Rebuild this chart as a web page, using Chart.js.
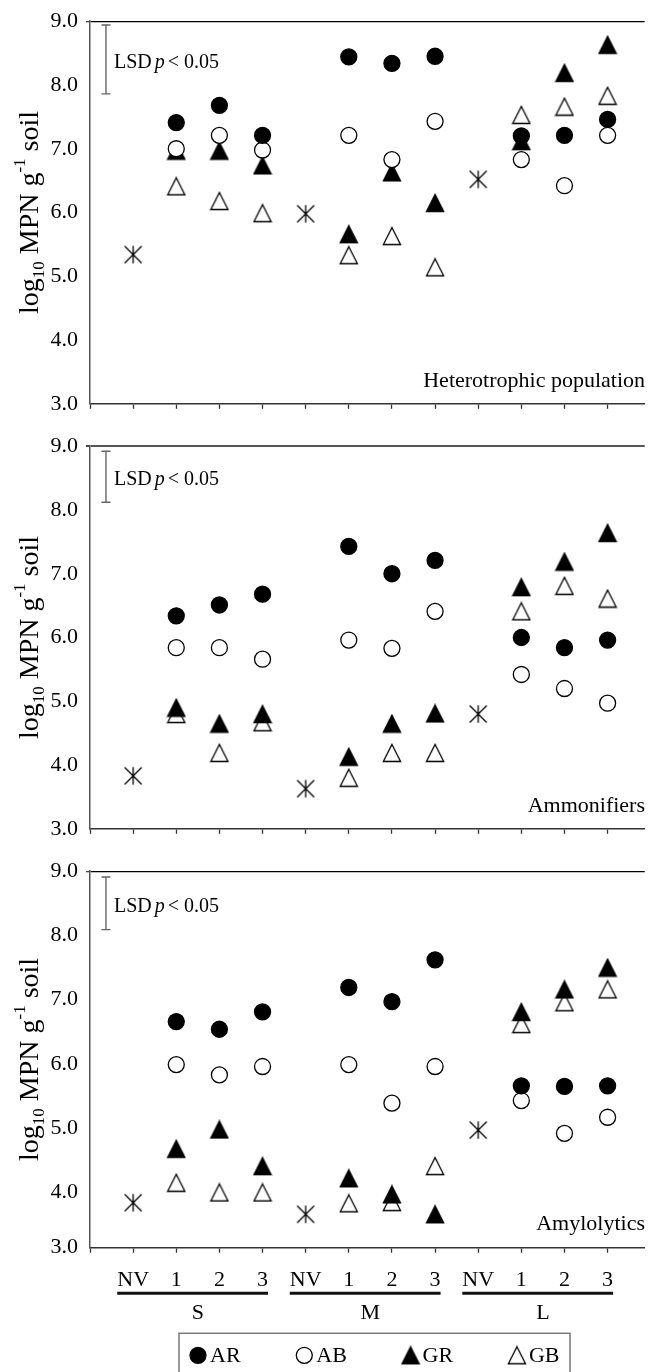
<!DOCTYPE html>
<html>
<head>
<meta charset="utf-8">
<script src="https://cdn.jsdelivr.net/npm/chart.js@4.4.0/dist/chart.umd.min.js"></script>
<style>
  body { margin: 0; background: #fff; width: 654px; height: 1372px; position: relative; overflow: hidden; }
  canvas { position: absolute; left: 0; }
</style>
</head>
<body>
<canvas id="c1" width="654" height="425" style="top:0px"></canvas>
<canvas id="c2" width="654" height="425" style="top:425px"></canvas>
<canvas id="c3" width="654" height="522" style="top:850px"></canvas>
<script>
const sizes = ['S', 'M', 'L'];
const treatments = ['NV', '1', '2', '3'];
const seriesNames = ['AR', 'AB', 'GR', 'GB'];
const panelTitles = ['Heterotrophic population', 'Ammonifiers', 'Amylolytics'];

// series order: S1 S2 S3 M1 M2 M3 L1 L2 L3 ; NV order: S M L
const nvHet = [5.34, 5.98, 6.52];
const arHet = [7.41, 7.68, 7.21, 8.44, 8.34, 8.45, 7.20, 7.21, 7.46];
const abHet = [7.00, 7.21, 6.98, 7.21, 6.83, 7.43, 6.83, 6.42, 7.21];
const grHet = [6.97, 6.97, 6.74, 5.66, 6.63, 6.15, 7.12, 8.19, 8.63];
const gbHet = [6.41, 6.18, 5.99, 5.33, 5.63, 5.14, 7.53, 7.66, 7.83];

const nvAmm = [3.83, 3.63, 4.80];
const arAmm = [6.34, 6.51, 6.68, 7.43, 7.00, 7.21, 6.00, 5.84, 5.96];
const abAmm = [5.84, 5.84, 5.66, 5.96, 5.83, 6.41, 5.42, 5.20, 4.97];
const grAmm = [4.90, 4.65, 4.80, 4.13, 4.65, 4.81, 6.79, 7.19, 7.64];
const gbAmm = [4.80, 4.19, 4.67, 3.80, 4.19, 4.19, 6.41, 6.81, 6.61];

const nvAmy = [3.84, 3.66, 4.97];
const arAmy = [6.66, 6.54, 6.81, 7.19, 6.97, 7.62, 5.66, 5.65, 5.66];
const abAmy = [5.99, 5.83, 5.96, 5.99, 5.39, 5.96, 5.43, 4.92, 5.17];
const grAmy = [4.68, 4.98, 4.41, 4.22, 3.97, 3.66, 6.81, 7.16, 7.50];
const gbAmy = [4.15, 4.00, 4.00, 3.83, 3.85, 4.41, 6.62, 6.96, 7.16];

const lsdTop = [8.94, 8.92, 8.91];
const lsdBottom = [7.86, 8.12, 8.09];
const yMins = [3, 3, 3.14];
const yMax = 9;

const SERIF = '"Liberation Serif", "Times New Roman", serif';
Chart.defaults.font.family = SERIF;

// marker images
function makeTriangle(filled) {
  const c = document.createElement('canvas');
  c.width = 20; c.height = 20;
  const g = c.getContext('2d');
  g.beginPath();
  g.moveTo(10, 1.5);
  g.lineTo(18.6, 18.5);
  g.lineTo(1.4, 18.5);
  g.closePath();
  g.fillStyle = filled ? '#000' : '#fff';
  g.fill();
  g.lineWidth = 1.3;
  g.strokeStyle = '#000';
  g.stroke();
  return c;
}
function makeAsterisk() {
  const c = document.createElement('canvas');
  c.width = 20; c.height = 20;
  const g = c.getContext('2d');
  g.strokeStyle = '#000';
  g.lineWidth = 1.3;
  g.beginPath();
  g.moveTo(10, 1.2); g.lineTo(10, 18.8);
  g.moveTo(1.5, 1.5); g.lineTo(18.5, 18.5);
  g.moveTo(18.5, 1.5); g.lineTo(1.5, 18.5);
  g.stroke();
  return c;
}
const triFilled = makeTriangle(true);
const triOpen = makeTriangle(false);
const asterisk = makeAsterisk();

const markerStyles = [
  { pointStyle: 'circle', pointBackgroundColor: '#000', pointBorderColor: '#000' },
  { pointStyle: 'circle', pointBackgroundColor: '#fff', pointBorderColor: '#000' },
  { pointStyle: triFilled, pointBackgroundColor: '#000', pointBorderColor: '#000' },
  { pointStyle: triOpen, pointBackgroundColor: '#fff', pointBorderColor: '#000' }
];

function treatmentPoints(vals) {
  return vals.map((v, i) => ({ x: Math.floor(i / 3) * treatments.length + (i % 3) + 2, y: v }));
}
function nvPoints(vals) {
  return vals.map((v, g) => ({ x: g * treatments.length + 1, y: v }));
}

function drawMarker(ctx, k, x, y) {
  const st = markerStyles[k];
  if (st.pointStyle === 'circle') {
    ctx.beginPath();
    ctx.arc(x, y, 8, 0, Math.PI * 2);
    ctx.fillStyle = st.pointBackgroundColor;
    ctx.fill();
    ctx.lineWidth = 1.3;
    ctx.strokeStyle = '#000';
    ctx.stroke();
  } else {
    const im = st.pointStyle;
    ctx.drawImage(im, x - im.width / 2, y - im.height / 2);
  }
}

function drawYTitle(ctx, cy) {
  const parts = [
    ['log', 28, 0], ['10', 17, 6], [' MPN g', 28, 0], ['-1', 17, -13], [' soil', 28, 0]
  ];
  ctx.save();
  ctx.translate(37.5, cy);
  ctx.rotate(-Math.PI / 2);
  ctx.fillStyle = '#000';
  ctx.textBaseline = 'alphabetic';
  ctx.textAlign = 'left';
  let total = 0;
  parts.forEach(p => { ctx.font = p[1] + 'px ' + SERIF; total += ctx.measureText(p[0]).width; });
  let x = -total / 2;
  parts.forEach(p => {
    ctx.font = p[1] + 'px ' + SERIF;
    ctx.fillText(p[0], x, p[2]);
    x += ctx.measureText(p[0]).width;
  });
  ctx.restore();
}

function annotations(idx, bottomPanel) {
  return {
    id: 'annot' + idx,
    afterDraw(chart) {
      const ctx = chart.ctx;
      const xs = chart.scales.x, ys = chart.scales.y, area = chart.chartArea;
      ctx.save();
      // LSD bar
      const bx = xs.getPixelForValue(0.37);
      const t = ys.getPixelForValue(lsdTop[idx]);
      const b = ys.getPixelForValue(lsdBottom[idx]);
      ctx.strokeStyle = '#666';
      ctx.lineWidth = 1.4;
      ctx.beginPath();
      ctx.moveTo(bx, t); ctx.lineTo(bx, b);
      ctx.moveTo(bx - 4.5, t); ctx.lineTo(bx + 4.5, t);
      ctx.moveTo(bx - 4.5, b); ctx.lineTo(bx + 4.5, b);
      ctx.stroke();
      // LSD label
      const ly = (t + b) / 2 + 3;
      ctx.fillStyle = '#000';
      ctx.textBaseline = 'middle';
      ctx.textAlign = 'left';
      let lx = 114;
      ctx.font = '20px ' + SERIF;
      ctx.fillText('LSD', lx, ly);
      lx += ctx.measureText('LSD').width + 3;
      ctx.font = 'italic 20px ' + SERIF;
      ctx.fillText('p', lx, ly);
      lx += ctx.measureText('p').width + 3;
      ctx.font = '20px ' + SERIF;
      ctx.fillText('< 0.05', lx, ly);
      // panel title
      ctx.textAlign = 'right';
      ctx.font = '22px ' + SERIF;
      ctx.fillText(panelTitles[idx], 645, area.bottom - 23);
      // y title
      drawYTitle(ctx, (area.top + area.bottom) / 2);

      if (bottomPanel) {
        // group underlines and labels
        ctx.font = '22px ' + SERIF;
        const wNV = ctx.measureText(treatments[0]).width;
        const wLast = ctx.measureText(treatments[treatments.length - 1]).width;
        const lineY = area.bottom + 45.6;
        sizes.forEach((s, g) => {
          const first = g * treatments.length + 1;
          const last = first + treatments.length - 1;
          const x1 = xs.getPixelForValue(first) - wNV / 2;
          const x2 = xs.getPixelForValue(last) + wLast / 2;
          ctx.strokeStyle = '#111';
          ctx.lineWidth = 3;
          ctx.beginPath();
          ctx.moveTo(x1, lineY); ctx.lineTo(x2, lineY);
          ctx.stroke();
          ctx.fillStyle = '#000';
          ctx.textAlign = 'center';
          ctx.textBaseline = 'middle';
          ctx.fillText(s, xs.getPixelForValue((first + last) / 2), area.bottom + 66);
        });
        // legend
        const boxTop = area.bottom + 85.6;
        ctx.strokeStyle = '#777';
        ctx.lineWidth = 1.5;
        ctx.strokeRect(179, boxTop, 391, 70);
        const iy = boxTop + 22;
        seriesNames.forEach((name, k) => {
          const mx = 198 + k * 106.3;
          drawMarker(ctx, k, mx, iy);
          ctx.fillStyle = '#000';
          ctx.textAlign = 'left';
          ctx.textBaseline = 'middle';
          ctx.font = '22px ' + SERIF;
          ctx.fillText(name, mx + 12, iy + 1);
        });
      }
      ctx.restore();
    }
  };
}

function makePanel(canvasId, idx, series, nv, opts) {
  const datasets = series.map((vals, k) => Object.assign({
    label: seriesNames[k],
    data: treatmentPoints(vals),
    pointRadius: 8,
    pointBorderWidth: 1.3,
    showLine: false
  }, markerStyles[k]));
  datasets.push({
    label: 'NV',
    data: nvPoints(nv),
    pointStyle: asterisk,
    pointRadius: 8,
    showLine: false
  });

  const bottomPanel = !!opts.bottom;
  return new Chart(document.getElementById(canvasId), {
    type: 'scatter',
    data: { datasets },
    options: {
      responsive: false,
      animation: false,
      events: [],
      layout: { padding: { top: opts.padTop, left: 0, right: 0, bottom: 0 } },
      plugins: { legend: { display: false }, tooltip: { enabled: false } },
      scales: {
        x: {
          type: 'linear',
          min: 0,
          max: 12.86,
          afterBuildTicks: s => {
            s.ticks = [0].concat(sizes.flatMap((g, gi) => treatments.map((t, ti) => gi * treatments.length + ti + 1)))
              .map(v => ({ value: v }));
          },
          afterFit: s => { s.height = opts.xHeight; },
          ticks: {
            autoSkip: false,
            maxRotation: 0,
            padding: 14,
            color: '#000',
            font: { family: SERIF, size: 22 },
            callback: v => (bottomPanel && v > 0) ? treatments[(v - 1) % treatments.length] : ''
          },
          grid: { drawOnChartArea: false, tickLength: 5, tickColor: '#333', tickWidth: 1.3 },
          border: { color: '#333', width: 1.5 }
        },
        y: {
          type: 'linear',
          min: yMins[idx],
          max: yMax,
          afterBuildTicks: s => {
            s.ticks = [s.min, 4, 5, 6, 7, 8, 9].map(v => ({ value: v }));
          },
          afterFit: s => { s.width = 90; },
          ticks: {
            padding: 8,
            color: '#000',
            font: { family: SERIF, size: 22 },
            callback: v => v < 4 ? '3.0' : v.toFixed(1)
          },
          grid: {
            tickLength: 4,
            tickColor: '#444',
            color: c => (c.tick && c.tick.value === yMax) ? opts.topColor : 'rgba(0,0,0,0)',
            lineWidth: c => (c.tick && c.tick.value === yMax) ? opts.topWidth : 0
          },
          border: { color: '#555', width: 1.5 }
        }
      }
    },
    plugins: [annotations(idx, bottomPanel)]
  });
}

makePanel('c1', 0, [arHet, abHet, grHet, gbHet], nvHet, { padTop: 15, xHeight: 16, topColor: '#000', topWidth: 1.3 });
makePanel('c2', 1, [arAmm, abAmm, grAmm, gbAmm], nvAmm, { padTop: 14.5, xHeight: 17.3, topColor: '#555', topWidth: 2 });
makePanel('c3', 2, [arAmy, abAmy, grAmy, gbAmy], nvAmy, { padTop: 12.7, xHeight: 124.3, topColor: '#000', topWidth: 1.3, bottom: true });
</script>
</body>
</html>
